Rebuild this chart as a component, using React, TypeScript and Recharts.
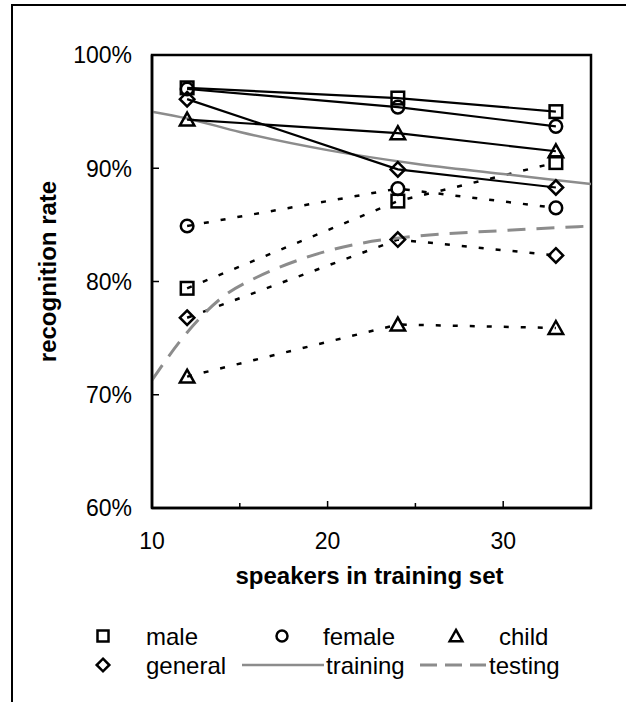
import React from 'react';
import { LineChart, Line, XAxis, YAxis, ReferenceArea, Legend } from 'recharts';

const FONT = '"Liberation Sans", Arial, Helvetica, sans-serif';

// x values (speakers in training set)
const speakers = [12, 24, 33];
// solid lines (training data)
const maleTrain = [97.1, 96.2, 95.0];
const femaleTrain = [97.0, 95.4, 93.7];
const childTrain = [94.3, 93.1, 91.5];
const generalTrain = [96.1, 89.9, 88.3];
// dotted lines (testing data)
const maleTest = [79.4, 87.1, 90.5];
const femaleTest = [84.9, 88.2, 86.5];
const childTest = [71.6, 76.2, 75.9];
const generalTest = [76.8, 83.7, 82.3];

// gray trend curves
const trainingX = [10, 12, 15, 20, 25, 30, 35];
const trainingY = [95.0, 94.4, 93.2, 91.6, 90.4, 89.5, 88.6];
const testingX = [10, 12, 14, 16, 18, 20, 22, 25, 30, 35];
const testingY = [71.3, 75.5, 78.6, 80.4, 81.7, 82.7, 83.4, 84.0, 84.5, 84.9];

const yTicks = [60, 70, 80, 90, 100];
const xTicks = [10, 15, 20, 25, 30, 35];
const xLabels = [10, 20, 30];

const table = speakers.map((x, i) => ({
  x,
  maleTrain: maleTrain[i],
  femaleTrain: femaleTrain[i],
  childTrain: childTrain[i],
  generalTrain: generalTrain[i],
  maleTest: maleTest[i],
  femaleTest: femaleTest[i],
  childTest: childTest[i],
  generalTest: generalTest[i],
}));
const trainingData = trainingX.map((x, i) => ({ x, y: trainingY[i] }));
const testingData = testingX.map((x, i) => ({ x, y: testingY[i] }));

type Kind = 'square' | 'circle' | 'triangle' | 'diamond';

function Marker({ kind, cx, cy, s = 6.3, sw = 2.5 }: { kind: Kind; cx: number; cy: number; s?: number; sw?: number }) {
  const common = { fill: 'none', stroke: '#000', strokeWidth: sw };
  if (cx == null || cy == null) return null;
  switch (kind) {
    case 'square':
      return <rect x={cx - s} y={cy - s} width={2 * s} height={2 * s} {...common} />;
    case 'circle':
      return <circle cx={cx} cy={cy} r={s} {...common} />;
    case 'triangle':
      return (
        <polygon
          points={`${cx},${cy - s * 1.1} ${cx + s * 1.15},${cy + s * 0.95} ${cx - s * 1.15},${cy + s * 0.95}`}
          {...common}
          strokeLinejoin="miter"
        />
      );
    default:
      return (
        <polygon
          points={`${cx},${cy - s * 1.15} ${cx + s * 1.15},${cy} ${cx},${cy + s * 1.15} ${cx - s * 1.15},${cy}`}
          {...common}
        />
      );
  }
}

const dotFor = (kind: Kind) => (p: any) => <Marker key={`${kind}-${p.index}`} kind={kind} cx={p.cx} cy={p.cy} />;

const TICK_FS = 23;
const LEG_FS = 24;
const TITLE_FS = 24;

const YTick = (props: any) => {
  const { x, y, payload } = props;
  return (
    <g>
      <text x={x} y={y} dy="0.36em" textAnchor="end" fontSize={TICK_FS} fontFamily={FONT} fill="#000">
        {payload.value}%
      </text>
      {payload.value !== 60 && payload.value !== 100 ? (
        <line x1={x + 20} x2={x + 27} y1={y} y2={y} stroke="#000" strokeWidth={1.5} />
      ) : null}
    </g>
  );
};

const XTick = (props: any) => {
  const { x, y, payload } = props;
  const v = payload.value;
  const major = xLabels.includes(v);
  return (
    <g>
      {major ? (
        <text x={x} y={y} dy="0.72em" textAnchor="middle" fontSize={TICK_FS} fontFamily={FONT} fill="#000">
          {v}
        </text>
      ) : null}
      {v !== 10 && v !== 35 ? (
        <line x1={x} x2={x} y1={y - 24} y2={y - 24 - (major ? 7 : 5)} stroke="#000" strokeWidth={1.5} />
      ) : null}
    </g>
  );
};

const YLabel = (props: any) => {
  const vb = props.viewBox || { x: 12, y: 55, width: 140, height: 453 };
  const cx = vb.x + 35;
  const cy = vb.y + vb.height / 2 - 10;
  return (
    <text
      x={cx}
      y={cy}
      transform={`rotate(-90 ${cx} ${cy})`}
      textAnchor="middle"
      dy="0.36em"
      fontSize={TITLE_FS}
      fontWeight="bold"
      fontFamily={FONT}
      fill="#000"
    >
      recognition rate
    </text>
  );
};

const XLabel = (props: any) => {
  const vb = props.viewBox || { x: 152, y: 508, width: 439, height: 40 };
  const cx = vb.x + vb.width / 2 - 2;
  const cy = vb.y + 67;
  return (
    <text x={cx} y={cy} dy="0.36em" textAnchor="middle" fontSize={TITLE_FS} fontWeight="bold" fontFamily={FONT} fill="#000">
      speakers in training set
    </text>
  );
};

const legendMarkers: { kind: Kind; label: string; mx: number; tx: number; row: number }[] = [
  { kind: 'square', label: 'male', mx: 103, tx: 146, row: 0 },
  { kind: 'circle', label: 'female', mx: 282, tx: 323, row: 0 },
  { kind: 'triangle', label: 'child', mx: 456, tx: 499, row: 0 },
  { kind: 'diamond', label: 'general', mx: 103, tx: 146, row: 1 },
];
const rowY = [26, 55];

const LegendContent = () => (
  <svg width={626} height={90} style={{ display: 'block' }}>
    {legendMarkers.map((m) => (
      <g key={m.label}>
        <Marker kind={m.kind} cx={m.mx} cy={rowY[m.row]} s={5.5} sw={2.5} />
        <text x={m.tx} y={rowY[m.row]} dy="0.36em" fontSize={LEG_FS} fontFamily={FONT} fill="#000">
          {m.label}
        </text>
      </g>
    ))}
    <line x1={242} x2={324} y1={rowY[1]} y2={rowY[1]} stroke="#8c8c8c" strokeWidth={2.5} />
    <text x={326} y={rowY[1]} dy="0.36em" fontSize={LEG_FS} fontFamily={FONT} fill="#000">
      training
    </text>
    <line x1={420} x2={486} y1={rowY[1]} y2={rowY[1]} stroke="#8c8c8c" strokeWidth={3} strokeDasharray="17 8" />
    <text x={489} y={rowY[1]} dy="0.36em" fontSize={LEG_FS} fontFamily={FONT} fill="#000">
      testing
    </text>
  </svg>
);

const testDash = '5 12';

export default function App() {
  return (
    <div style={{ position: 'absolute', left: 0, top: 0, width: 626, height: 702, overflow: 'hidden', background: '#fff' }}>
      <div
        style={{
          position: 'absolute',
          left: 11,
          top: 4,
          width: 700,
          height: 800,
          borderTop: '2.5px solid #000',
          borderLeft: '2.5px solid #000',
        }}
      />
      <div style={{ position: 'absolute', left: 0, top: 0 }}>
        <LineChart width={626} height={702} data={table} margin={{ top: 55, right: 35, left: 12, bottom: 154 }}>
          <XAxis
            dataKey="x"
            type="number"
            domain={[10, 35]}
            ticks={xTicks}
            interval={0}
            allowDataOverflow
            axisLine={{ stroke: '#000', strokeWidth: 2.5 }}
            tickLine={false}
            tickSize={0}
            tickMargin={24}
            tick={<XTick />}
            height={40}
            label={{ content: <XLabel /> }}
          />
          <YAxis
            type="number"
            domain={[60, 100]}
            ticks={yTicks}
            interval={0}
            allowDataOverflow
            axisLine={{ stroke: '#000', strokeWidth: 2.5 }}
            tickLine={false}
            tickSize={0}
            tickMargin={20}
            tick={<YTick />}
            width={140}
            label={{ content: <YLabel /> }}
          />
          <ReferenceArea x1={10} x2={35} y1={60} y2={100} fill="none" stroke="#000" strokeWidth={2.5} ifOverflow="visible" />

          <Line dataKey="maleTest" stroke="#000" strokeWidth={2.5} strokeDasharray={testDash} dot={dotFor('square')} activeDot={false} isAnimationActive={false} legendType="none" />
          <Line dataKey="femaleTest" stroke="#000" strokeWidth={2.5} strokeDasharray={testDash} dot={dotFor('circle')} activeDot={false} isAnimationActive={false} legendType="none" />
          <Line dataKey="childTest" stroke="#000" strokeWidth={2.5} strokeDasharray={testDash} dot={dotFor('triangle')} activeDot={false} isAnimationActive={false} legendType="none" />
          <Line dataKey="generalTest" stroke="#000" strokeWidth={2.5} strokeDasharray={testDash} dot={dotFor('diamond')} activeDot={false} isAnimationActive={false} legendType="none" />

          <Line data={trainingData} dataKey="y" name="training" type="monotone" stroke="#8c8c8c" strokeWidth={2.5} dot={false} activeDot={false} isAnimationActive={false} />
          <Line data={testingData} dataKey="y" name="testing" type="monotone" stroke="#8c8c8c" strokeWidth={3} strokeDasharray="18 11" dot={false} activeDot={false} isAnimationActive={false} />

          <Line dataKey="maleTrain" stroke="#000" strokeWidth={2.2} dot={dotFor('square')} activeDot={false} isAnimationActive={false} legendType="none" />
          <Line dataKey="femaleTrain" stroke="#000" strokeWidth={2.2} dot={dotFor('circle')} activeDot={false} isAnimationActive={false} legendType="none" />
          <Line dataKey="childTrain" stroke="#000" strokeWidth={2.2} dot={dotFor('triangle')} activeDot={false} isAnimationActive={false} legendType="none" />
          <Line dataKey="generalTrain" stroke="#000" strokeWidth={2.2} dot={dotFor('diamond')} activeDot={false} isAnimationActive={false} legendType="none" />

          <Legend
            layout="horizontal"
            verticalAlign="middle"
            align="center"
            content={<LegendContent />}
            wrapperStyle={{ position: 'absolute', left: 0, top: 610, width: 626, height: 90 }}
          />
        </LineChart>
      </div>
    </div>
  );
}
